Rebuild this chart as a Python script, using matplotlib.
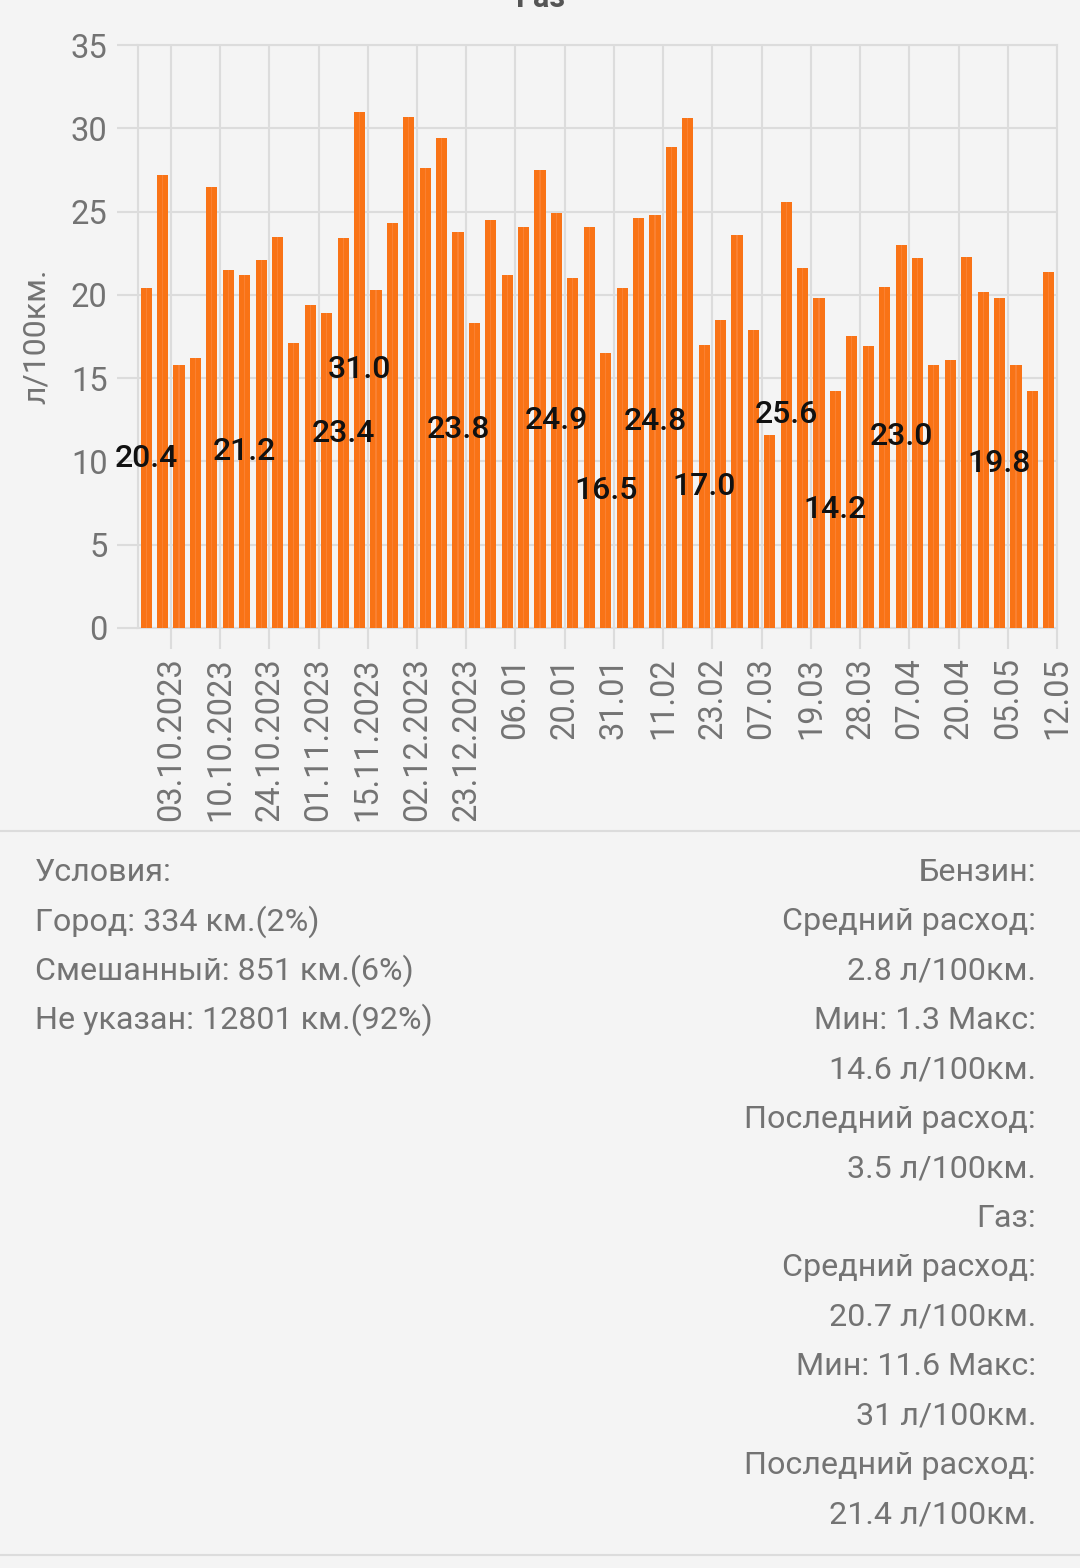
import numpy as np
import matplotlib
matplotlib.use("Agg")
import matplotlib.pyplot as plt
from matplotlib.lines import Line2D

plt.rcParams['font.family'] = ['Roboto', 'DejaVu Sans']

# расход газа по заправкам, л/100км
gas_values = [20.4, 27.2, 15.8, 16.2, 26.5, 21.5, 21.2, 22.1, 23.5, 17.1,
              19.4, 18.9, 23.4, 31.0, 20.3, 24.3, 30.7, 27.6, 29.4, 23.8,
              18.3, 24.5, 21.2, 24.1, 27.5, 24.9, 21.0, 24.1, 16.5, 20.4,
              24.6, 24.8, 28.9, 30.6, 17.0, 18.5, 23.6, 17.9, 11.6, 25.6,
              21.6, 19.8, 14.2, 17.5, 16.9, 20.5, 23.0, 22.2, 15.8, 16.1,
              22.3, 20.2, 19.8, 15.8, 14.2, 21.4]

# bars that have their value printed
labeled_bars = [0, 6, 12, 13, 19, 25, 28, 31, 34, 39, 42, 46, 52]

date_labels = ['03.10.2023', '10.10.2023', '24.10.2023', '01.11.2023',
               '15.11.2023', '02.12.2023', '23.12.2023', '06.01', '20.01',
               '31.01', '11.02', '23.02', '07.03', '19.03', '28.03', '07.04',
               '20.04', '05.05', '12.05']

left_lines = ['Условия:', 'Город: 334 км.(2%)', 'Смешанный: 851 км.(6%)',
              'Не указан: 12801 км.(92%)']

right_lines = ['Бензин:', 'Средний расход:', '2.8 л/100км.', 'Мин: 1.3 Макс:',
               '14.6 л/100км.', 'Последний расход:', '3.5 л/100км.', 'Газ:',
               'Средний расход:', '20.7 л/100км.', 'Мин: 11.6 Макс:',
               '31 л/100км.', 'Последний расход:', '21.4 л/100км.']

BG = '#f4f4f4'
GRID = '#dcdcdc'
TXT = '#737373'
ORANGE = '#f97316'

W, H = 1080, 1568
fig = plt.figure(figsize=(W / 100, H / 100), dpi=100, facecolor=BG)

ax = fig.add_axes([138 / W, 1 - 628 / H, (1057 - 138) / W, (628 - 45) / H])
ax.set_facecolor(BG)

x = np.arange(len(gas_values))
ax.bar(x, gas_values, width=0.68, color=ORANGE, zorder=3)
ax.bar(x, gas_values, width=0.07, color='#fb8c45', alpha=0.6, zorder=3.5)

for i in labeled_bars:
    v = gas_values[i]
    ax.text(x[i], v / 2, f'{v:.1f}', ha='center', va='center', fontsize=23,
            fontweight='medium', color='#111111', zorder=5)

ax.set_xlim(-0.5, len(gas_values) - 0.5)
ax.set_ylim(0, 35)
ax.set_yticks(np.arange(0, 36, 5))
ax.set_yticklabels([str(v) for v in range(0, 36, 5)])
ax.set_xticks(np.arange(1.5, len(gas_values), 3))
ax.set_xticklabels(date_labels, rotation=90)

ax.grid(True, color=GRID, linewidth=1.5, zorder=0)
for s in ax.spines.values():
    s.set_color(GRID)
    s.set_linewidth(1.5)

ax.tick_params(axis='both', colors=GRID, width=1.5, length=15,
               labelcolor=TXT, labelsize=23.5)
ax.tick_params(axis='y', pad=7)
ax.tick_params(axis='x', pad=6)
ax.set_ylabel('л/100км.', fontsize=23, color=TXT, labelpad=14)

fig.text(0.5, 1 - 7 / H, 'Газ', ha='center', va='baseline', fontsize=22,
         fontweight='bold', color='#555555')

# separators
for yy in (831, 1555):
    fig.add_artist(Line2D([0, 1], [1 - yy / H, 1 - yy / H], color=GRID,
                          linewidth=1.5, transform=fig.transFigure))

step = 49.4
for k, line in enumerate(left_lines):
    fig.text(35 / W, 1 - (881 + k * step) / H, line, ha='left', va='baseline',
             fontsize=23.2, color=TXT)
for k, line in enumerate(right_lines):
    fig.text(1036 / W, 1 - (881 + k * step) / H, line, ha='right', va='baseline',
             fontsize=23.2, color=TXT)

fig.savefig('out.png', dpi=100, facecolor=BG)
